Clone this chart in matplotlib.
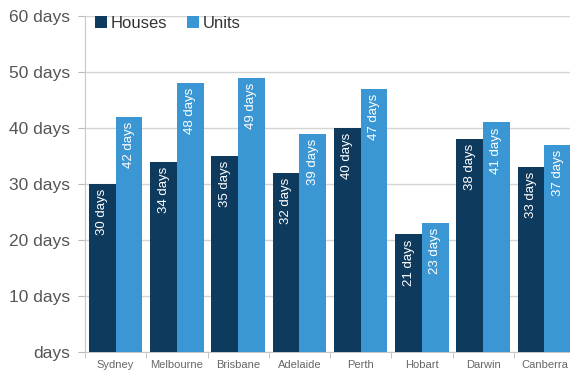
import numpy as np
import matplotlib.pyplot as plt

cities = ['Sydney', 'Melbourne', 'Brisbane', 'Adelaide', 'Perth', 'Hobart', 'Darwin', 'Canberra']
houses = [30, 34, 35, 32, 40, 21, 38, 33]
units = [42, 48, 49, 39, 47, 23, 41, 37]
yticks = [0, 10, 20, 30, 40, 50, 60]
ytick_labels = ['days', '10 days', '20 days', '30 days', '40 days', '50 days', '60 days']

plt.rcParams['font.family'] = ['Liberation Sans', 'DejaVu Sans']

fig = plt.figure(figsize=(5.7, 3.74), dpi=100)
ax = fig.add_axes([85/570, 22/374, 490/570, 336/374])

x = np.arange(len(cities))
w = 0.435
c_h = '#0e3a5e'
c_u = '#3a97d3'
bh = ax.bar(x - w/2, houses, w, color=c_h, label='Houses', zorder=3)
bu = ax.bar(x + w/2, units, w, color=c_u, label='Units', zorder=3)

# value labels written upward just inside the top of each bar
for bars, vals in ((bh, houses), (bu, units)):
    for b, v in zip(bars, vals):
        ax.text(b.get_x() + b.get_width()/2, v - 0.9, '%d days' % v,
                rotation=90, ha='center', va='top', color='white', fontsize=9.5, zorder=4)

ax.set_xlim(-0.5, len(cities) - 0.5)
ax.set_ylim(0, 60)
ax.set_yticks(yticks)
ax.set_yticklabels(ytick_labels, fontsize=12.5, color='#555555')
ax.set_xticks(x)
ax.set_xticklabels(cities, fontsize=8, color='#666666')
ax.set_xticks(np.arange(len(cities) + 1) - 0.5, minor=True)
ax.tick_params(axis='x', which='major', length=0, pad=6)
ax.tick_params(axis='x', which='minor', length=4, color='#bbbbbb')
ax.tick_params(axis='y', length=5, color='#bbbbbb', pad=6)

ax.grid(axis='y', color='#d4d4d4', linewidth=1, zorder=0)
for s in ('top', 'right'):
    ax.spines[s].set_visible(False)
ax.spines['left'].set_color('#c8c8c8')
ax.spines['bottom'].set_color('#c8c8c8')

ax.legend(loc='upper left', bbox_to_anchor=(0.0, 1.03), borderaxespad=0.2, ncol=2,
          frameon=False, fontsize=12, handlelength=0.7, handleheight=0.7,
          handletextpad=0.25, columnspacing=1.2, labelcolor='#333333')

fig.savefig('out.png', dpi=100)
